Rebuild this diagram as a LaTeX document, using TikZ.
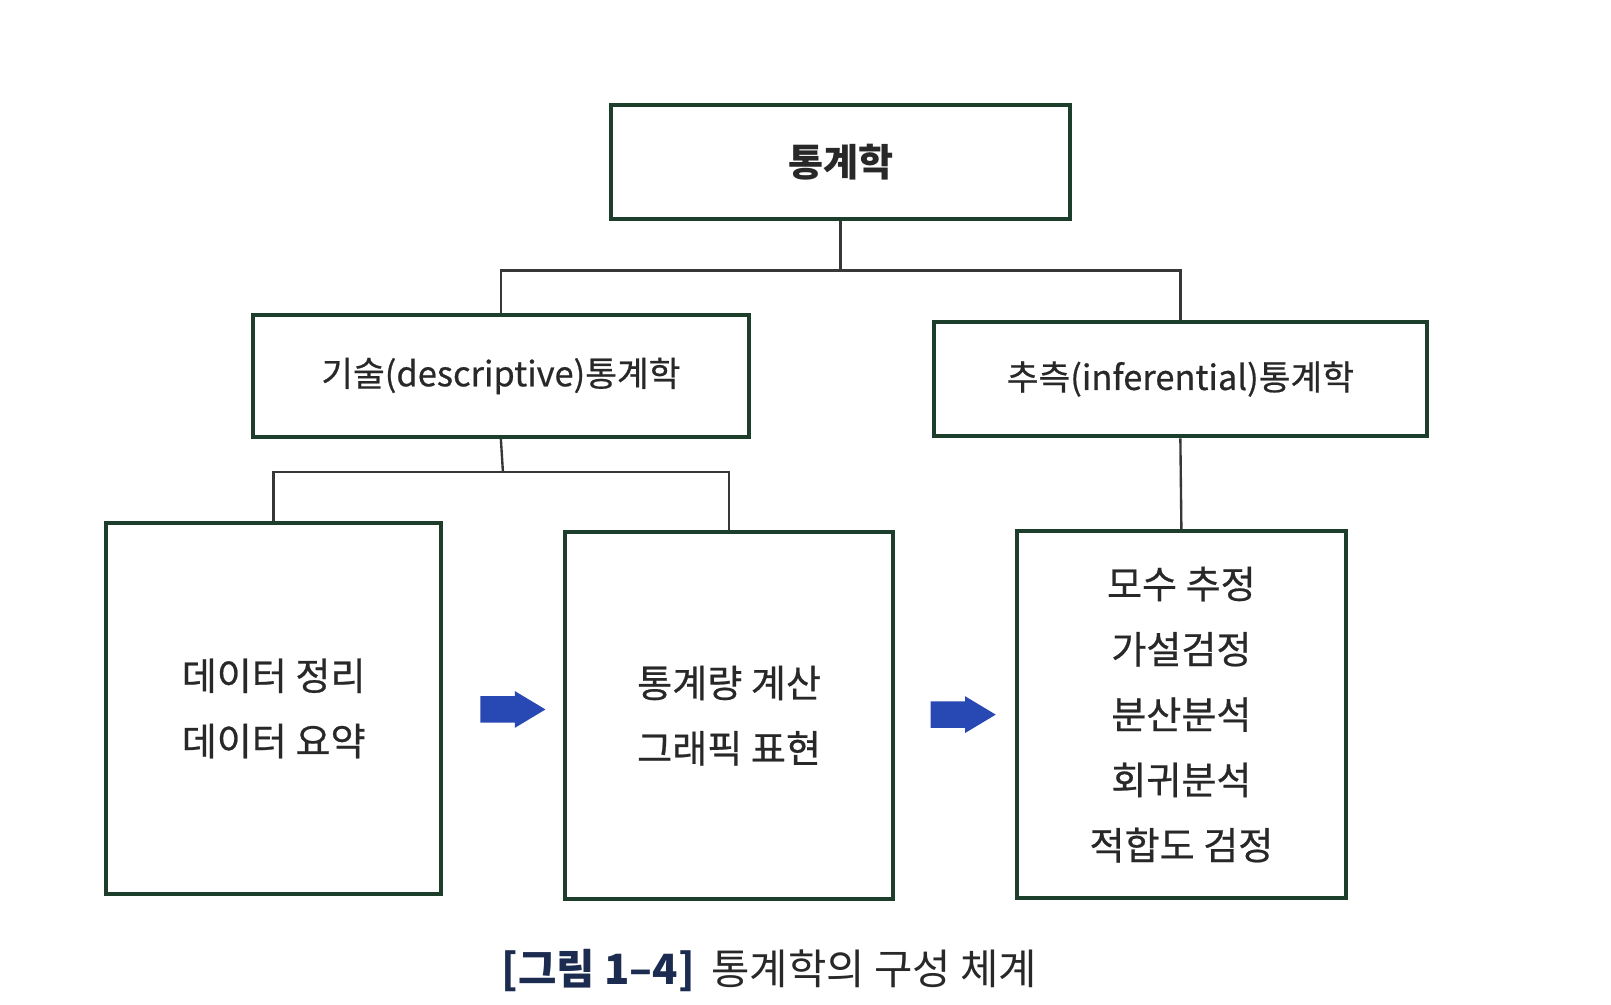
\documentclass[tikz,border=0pt]{standalone}
\usepackage{fontspec}
\setmainfont{Noto Sans CJK KR}
\newfontfamily\krheavy[FakeBold=0.6]{Noto Sans CJK KR}
\usepackage{tikz}
\usetikzlibrary{shapes.arrows}

\definecolor{boxgreen}{RGB}{28,62,42}
\definecolor{linegray}{RGB}{55,55,55}
\definecolor{arrowblue}{RGB}{40,72,180}
\definecolor{textgray}{RGB}{40,40,40}
\definecolor{capnavy}{RGB}{28,44,80}

\begin{document}
\begin{tikzpicture}[x=0.02cm,y=-0.02cm,
    box/.style={draw=boxgreen,line width=2.2pt,inner sep=0pt,align=center,text=textgray},
    btext/.style={font=\krheavy\fontsize{21}{36}\selectfont},
    link/.style={draw=linegray,line width=1.3pt},
    blockarrow/.style={single arrow,fill=arrowblue,inner xsep=0pt,inner ysep=0.25cm,
        single arrow head extend=0.1cm,single arrow tip angle=62,minimum height=1.26cm}]
    \useasboundingbox (0,0) rectangle (1560,973);

    \node[box,minimum width=8.88cm,minimum height=2.2cm,font=\fontsize{21}{24}\selectfont\bfseries] (stat) at (814,157) {통계학};
    \node[box,minimum width=9.6cm,minimum height=2.36cm,font=\krheavy\fontsize{19}{24}\selectfont] (desc) at (485,364) {기술(descriptive)통계학};
    \node[box,minimum width=9.54cm,minimum height=2.22cm,font=\krheavy\fontsize{19}{24}\selectfont] (infer) at (1143,367) {추측(inferential)통계학};
    \node[box,btext,minimum width=6.48cm,minimum height=7.18cm] (tidy) at (265,686) {데이터 정리\\데이터 요약};
    \node[box,btext,minimum width=6.36cm,minimum height=7.12cm] (calc) at (706,693) {통계량 계산\\그래픽 표현};
    \node[box,btext,minimum width=6.36cm,minimum height=7.10cm] (test) at (1144,692) {모수 추정\\가설검정\\분산분석\\회귀분석\\적합도 검정};

    \coordinate (j1) at (814,262);
    \coordinate (j2) at (487,457);
    \draw[link] (stat.south) -- (j1);
    \draw[link] (desc.north) |- (j1) -| (infer.north);
    \draw[link] (desc.south) -- (j2);
    \draw[link] (tidy.north) |- (j2) -| (calc.north);
    \draw[link] (infer.south) -- (test.north);

    \node[blockarrow] (ar1) at (486,687) {};
    \node[blockarrow] (ar2) at (922,692) {};

    \node[font=\fontsize{23}{28}\selectfont,text=textgray] (cap) at (745,940)
        {{\bfseries\color{capnavy}[그림 1–4]}\hspace{0.4em}통계학의 구성 체계};
\end{tikzpicture}
\end{document}
